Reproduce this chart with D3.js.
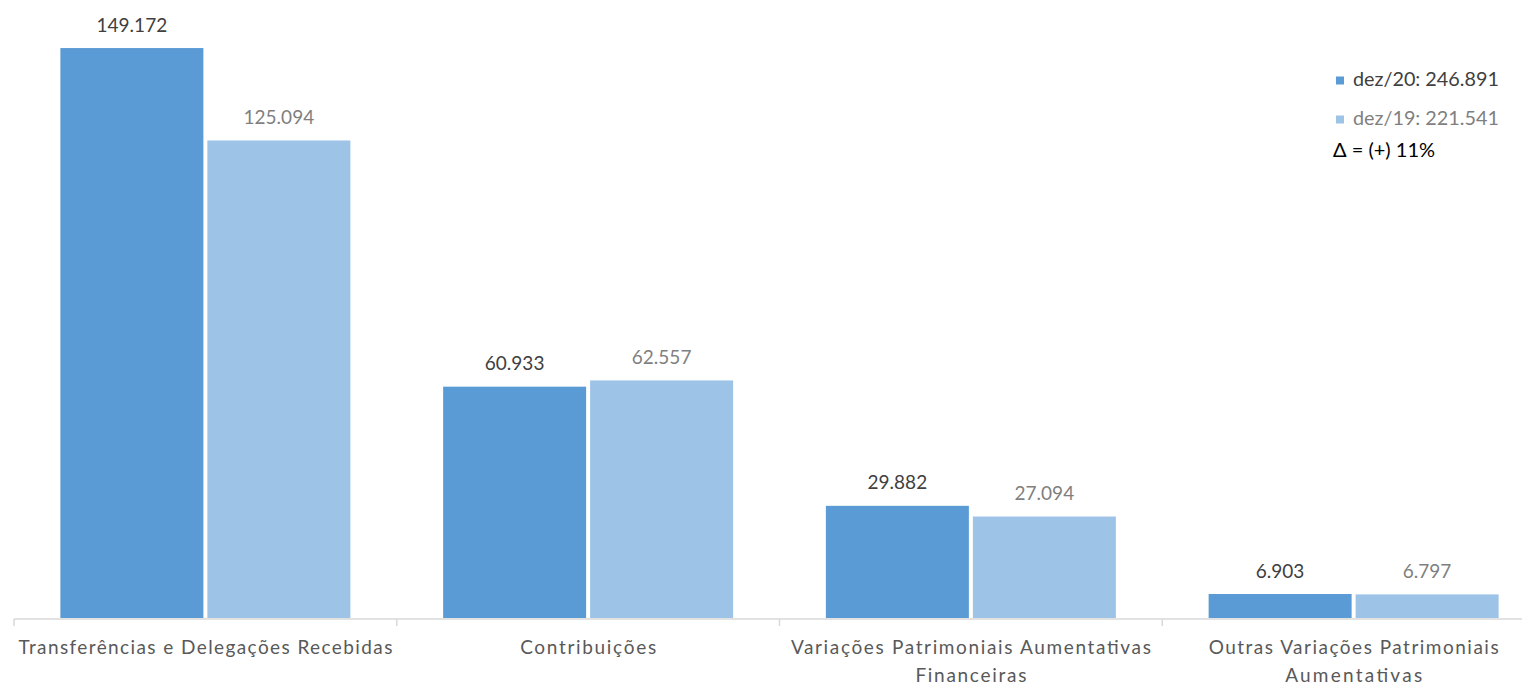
<!DOCTYPE html>
<html>
<head>
<meta charset="utf-8">
<script src="https://cdn.jsdelivr.net/npm/d3@7"></script>
<style>
  html, body { margin: 0; padding: 0; background: #fff; overflow: hidden; }
  svg { display: block; font-family: Lato, "Noto Sans", sans-serif; }
</style>
</head>
<body>
<svg id="chart" width="1522" height="685"></svg>
<script>
// Categories (each label split into its display lines)
const categories = [
  "Transferências e Delegações Recebidas",
  "Contribuições",
  "Variações Patrimoniais Aumentativas Financeiras",
  "Outras Variações Patrimoniais Aumentativas"
];
const categoryLines = [
  ["Transferências e Delegações Recebidas"],
  ["Contribuições"],
  ["Variações Patrimoniais Aumentativas", "Financeiras"],
  ["Outras Variações Patrimoniais", "Aumentativas"]
];
const series = ["dez/20", "dez/19"];
const values2020 = [149.172, 60.933, 29.882, 6.903];
const values2019 = [125.094, 62.557, 27.094, 6.797];
const valueLabels2020 = ["149.172", "60.933", "29.882", "6.903"];
const valueLabels2019 = ["125.094", "62.557", "27.094", "6.797"];
const legendLabels = ["dez/20: 246.891", "dez/19: 221.541"];
const deltaLabel = "\u0394 = (+) 11%";

const colors = { "dez/20": "#5B9BD5", "dez/19": "#9DC3E6" };
const labelColors = { "dez/20": "#404040", "dez/19": "#7F7F7F" };

const svg = d3.select("#chart");

const x0 = d3.scaleBand().domain(categories).range([14, 1545]).paddingInner(0).paddingOuter(0);
const x1 = d3.scaleBand().domain(series).range([0, x0.bandwidth()])
  .paddingInner(0.0272).paddingOuter(0.3155);
const y = d3.scaleLinear().domain([0, 160]).range([620.5, 6.5]);

const rows = categories.map((c, i) => ({
  cat: c,
  lines: categoryLines[i],
  bars: [
    { s: "dez/20", v: values2020[i], label: valueLabels2020[i] },
    { s: "dez/19", v: values2019[i], label: valueLabels2019[i] }
  ]
}));

const groups = svg.append("g").selectAll("g")
  .data(rows).join("g")
  .attr("transform", d => `translate(${x0(d.cat)},0)`);

groups.selectAll("rect")
  .data(d => d.bars).join("rect")
  .attr("x", d => x1(d.s))
  .attr("width", x1.bandwidth())
  .attr("y", d => y(d.v))
  .attr("height", d => Math.min(618, y(0)) - y(d.v))
  .attr("fill", d => colors[d.s]);

groups.selectAll("text.val")
  .data(d => d.bars).join("text")
  .attr("class", "val")
  .attr("x", d => x1(d.s) + x1.bandwidth() / 2)
  .attr("y", d => y(d.v) - 16.5)
  .attr("text-anchor", "middle")
  .attr("font-size", 19)
  .attr("fill", d => labelColors[d.s])
  .text(d => d.label);

// Category axis: baseline plus boundary ticks between groups
const axisY = 619;
const axis = svg.append("g");
axis.append("line")
  .attr("x1", x0.range()[0]).attr("x2", x0.range()[1])
  .attr("y1", axisY).attr("y2", axisY)
  .attr("stroke", "#D9D9D9").attr("stroke-width", 1.5);
const boundaries = categories.map(c => x0(c)).concat([x0.range()[1]]);
axis.selectAll("line.tick")
  .data(boundaries).join("line")
  .attr("class", "tick")
  .attr("x1", d => d).attr("x2", d => d)
  .attr("y1", axisY).attr("y2", axisY + 7)
  .attr("stroke", "#D9D9D9").attr("stroke-width", 1.5);

const lineWidths = {
  "Transferências e Delegações Recebidas": 374,
  "Contribuições": 136,
  "Variações Patrimoniais Aumentativas": 360,
  "Financeiras": 111,
  "Outras Variações Patrimoniais": 290,
  "Aumentativas": 137
};

rows.forEach(r => {
  const cx = x0(r.cat) + x0.bandwidth() / 2;
  r.lines.forEach((ln, j) => {
    axis.append("text")
      .attr("x", cx)
      .attr("y", 654 + j * 27.5)
      .attr("text-anchor", "middle")
      .attr("font-size", 19)
      .attr("fill", "#595959")
      .attr("textLength", lineWidths[ln])
      .attr("lengthAdjust", "spacing")
      .text(ln);
  });
});

// Legend with totals and variation
const legend = svg.append("g");
series.forEach((s, i) => {
  const yy = 86 + i * 39;
  legend.append("rect")
    .attr("x", 1336).attr("y", yy - 9.5)
    .attr("width", 8).attr("height", 8)
    .attr("fill", colors[s]);
  legend.append("text")
    .attr("x", 1353).attr("y", yy)
    .attr("font-size", 19.8)
    .attr("fill", labelColors[s])
    .text(legendLabels[i]);
});
legend.append("text")
  .attr("x", 1333).attr("y", 157)
  .attr("font-size", 20)
  .attr("fill", "#000")
  .text(deltaLabel);
</script>
</body>
</html>
